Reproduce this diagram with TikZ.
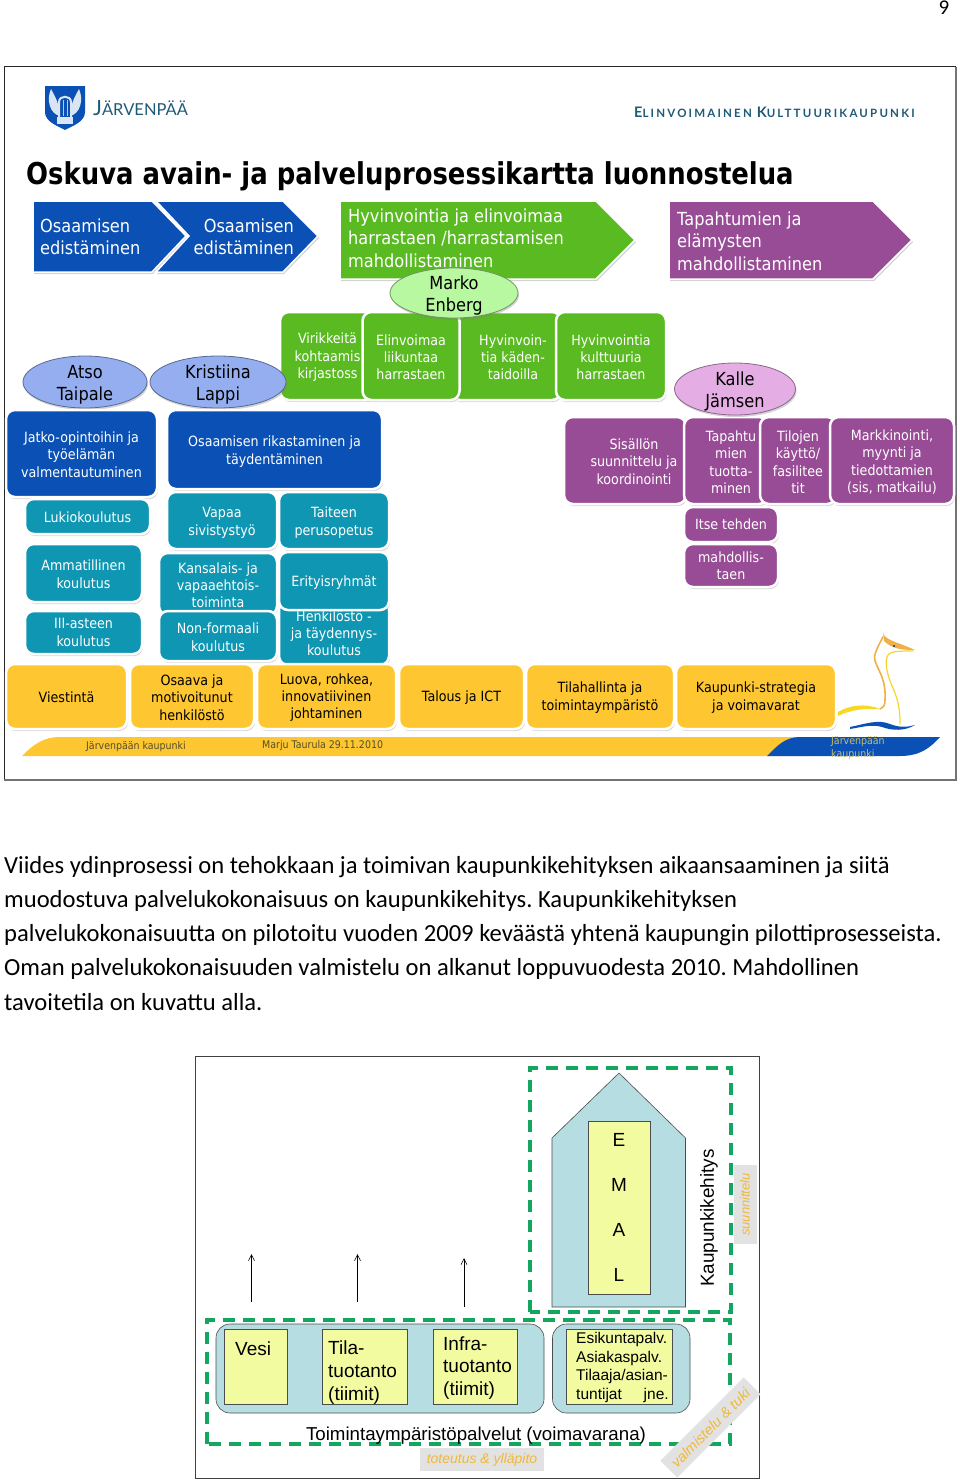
\documentclass[tikz,border=0pt]{standalone}
\usepackage{fontspec}
\setmainfont[FakeStretch=0.9]{DejaVu Sans}
\newfontfamily\titlefont[FakeStretch=0.86]{DejaVu Sans}
\newfontfamily\bodyfont{Carlito}
\newfontfamily\arialfont{Liberation Sans}
\newfontfamily\logofont{Lato}
\usetikzlibrary{calc,shadows,arrows.meta,shapes.geometric}

\definecolor{blu}{HTML}{0B50B4}
\definecolor{grn}{HTML}{5ABA22}
\definecolor{prp}{HTML}{984C96}
\definecolor{tea}{HTML}{0E96B2}
\definecolor{ylw}{HTML}{FEC630}
\definecolor{pale}{HTML}{B6DDE2}
\definecolor{lemon}{HTML}{F2FBA0}
\definecolor{dashgrn}{HTML}{14A55F}
\definecolor{tagtxt}{HTML}{EFB83A}
\definecolor{taggray}{HTML}{E2E2E2}
\definecolor{logoteal}{HTML}{1E5A78}
\definecolor{personblue}{HTML}{94AEF0}
\definecolor{persongreen}{HTML}{B8F8A0}
\definecolor{personpink}{HTML}{E4AEE4}
\definecolor{swangold}{HTML}{EDB04A}

% taller first line, pushes a node's text down a little
\newcommand{\lift}[1][13pt]{\rule{0pt}{#1}}

\tikzset{
  softshadow/.style={drop shadow={opacity=.35,shadow xshift=1pt,shadow yshift=-2pt}},
  card/.style={rounded corners=9pt,fill=#1,draw=white,line width=2.5pt,softshadow,
    text=white,align=center,inner sep=0pt,font=\fontsize{14.1}{17.2}\selectfont},
  darkcard/.style={card=ylw,text=black},
  tip/.style={fill=#1,draw=white,line width=1.5pt,softshadow},
  tiptext/.style={text=white,align=left,inner sep=0pt,font=\fontsize{18}{22.3}\selectfont},
  person/.style={ellipse,draw=#1!60!black,line width=.8pt,fill=#1,softshadow,
    text=black,align=center,inner sep=-10pt,font=\fontsize{18}{22}\selectfont},
  thin box/.style={draw=black!70,line width=.6pt,fill=#1},
  lemonbox/.style={thin box=lemon,inner sep=0pt},
  paneldash/.style={draw=dashgrn,line width=3.5pt,dash pattern=on 12pt off 8pt},
  tag/.style={fill=taggray,text=tagtxt,inner sep=0pt,font=\arialfont\itshape\fontsize{14.5}{14.5}\selectfont},
  up/.style={-{Straight Barb[length=6pt,width=6pt]},line width=.6pt},
}

\begin{document}
\frenchspacing
\begin{tikzpicture}[x=1pt,y=-1pt]
\useasboundingbox (0,0) rectangle (960,1480);

% page number
\node[font=\bodyfont\fontsize{21}{21}\selectfont] (pagenum) at (944,8) {9};

%%% SLIDE
\draw[line width=1pt,black!85] (4,780)--(4,67)--(956,67);
\draw[line width=2pt,black!55] (956,67)--(956,780)--(4,780);

% crest
\fill[blu] (45,86)--(85,86)--(85,112) .. controls (85,122) and (72,126) .. (65,130)
  .. controls (58,126) and (45,122) .. (45,112)--cycle;
\fill[white!85!blu] (51,89) .. controls (46,100) and (50,114) .. (60,116) .. controls (60,106) and (56,98) .. (51,89);
\fill[white!85!blu] (79,89) .. controls (84,100) and (80,114) .. (70,116) .. controls (70,106) and (74,98) .. (79,89);
\draw[white!85!blu,line width=2pt] (59,117)--(59,102) .. controls (59,95) and (71,95) .. (71,102)--(71,117);
\draw[white!70!blu,line width=.7pt] (63,100)--(63,116) (67,100)--(67,116);
\fill[white!85!blu] (57,117) rectangle (73,124);
\node[anchor=west,text=logoteal,inner sep=0pt,font=\logofont\fontsize{21}{21}\selectfont] (cityname) at (93,108)
  {J\fontsize{16.5}{16.5}\selectfont ÄRVENPÄÄ};
\node[anchor=west,text=logoteal,inner sep=0pt,font=\logofont\bfseries\fontsize{14.5}{14.5}\selectfont] (motto) at (634,112)
  {\addfontfeature{LetterSpace=19}E\fontsize{11.5}{11.5}\selectfont LINVOIMAINEN \fontsize{14.5}{14.5}\selectfont K\fontsize{11.5}{11.5}\selectfont ULTTUURIKAUPUNKI};

% title
\node[anchor=base west,inner sep=0pt,font=\titlefont\bfseries\fontsize{30.1}{30.1}\selectfont] (title) at (26,184)
  {Oskuva avain- ja palveluprosessikartta luonnostelua};

% process arrows
\path[tip=blu] (33,201)--(152,201)--(186,236)--(152,272)--(33,272)--cycle;
\path[tip=blu] (156,201)--(283,201)--(318,236)--(283,272)--(156,272)--(189,236)--cycle;
\path[tip=grn] (340,201)--(596,201)--(635,240)--(596,279)--(340,279)--cycle;
\path[tip=prp] (669,201)--(873,201)--(912,240)--(873,279)--(669,279)--cycle;
\node[tiptext,anchor=west] (tip1) at (40,237) {Osaamisen\\edistäminen};
\node[tiptext,anchor=east,align=right] (tip2) at (294,237) {Osaamisen\\edistäminen};
\node[tiptext,anchor=west] (tip3) at (348,238) {Hyvinvointia ja elinvoimaa\\harrastaen /harrastamisen\\mahdollistaminen};
\node[tiptext,anchor=west] (tip4) at (677,241) {Tapahtumien ja\\elämysten\\mahdollistaminen};

% green row
\node[card=grn,minimum width=95pt,minimum height=88pt] (virikkeita) at (327.5,356) {\lift Virikkeitä\\kohtaamis\\kirjastoss};
\node[card=grn,minimum width=110pt,minimum height=88pt] (hyvkaden) at (506,356) {\lift\hspace*{14pt}Hyvinvoin-\\\hspace*{14pt}tia käden-\\\hspace*{14pt}taidoilla};
\node[card=grn,minimum width=97pt,minimum height=88pt] (elinvoimaa) at (411,356) {\lift Elinvoimaa\\liikuntaa\\harrastaen};
\node[card=grn,minimum width=110pt,minimum height=88pt] (hyvkulttuuri) at (611,356) {\lift Hyvinvointia\\kulttuuria\\harrastaen};

% named people
\node[person=persongreen,minimum width=128pt,minimum height=50pt] (marko) at (454,293) {\lift[19.5pt]Marko\\Enberg};
\node[person=personblue,minimum width=124pt,minimum height=52pt] (atso) at (85,382) {\lift[19.5pt]Atso\\Taipale};
\node[person=personblue,minimum width=136pt,minimum height=52pt] (kristiina) at (218,382) {\lift[19.5pt]Kristiina\\Lappi};

% blue heads
\node[card=blu,minimum width=151pt,minimum height=87pt] (jatko) at (81.5,453.5) {\lift Jatko-opintoihin ja\\työelämän\\valmentautuminen};
\node[card=blu,minimum width=215pt,minimum height=79pt] (rikastaminen) at (274.5,449.5) {\lift[15pt]Osaamisen rikastaminen ja\\täydentäminen};

% teal boxes, first column
\node[card=tea,minimum width=125pt,minimum height=35pt] (lukio) at (87.5,516.5) {\lift Lukiokoulutus};
\node[card=tea,minimum width=117pt,minimum height=58pt] (ammatillinen) at (83.5,573) {\lift Ammatillinen\\koulutus};
\node[card=tea,minimum width=117pt,minimum height=43pt] (kolmas) at (83.5,632.5) {III-asteen\\koulutus};

% teal boxes, second and third column
\node[card=tea,minimum width=110pt,minimum height=57pt] (vapaa) at (222,520.5) {\lift[15pt]Vapaa\\sivistystyö};
\node[card=tea,minimum width=110pt,minimum height=57pt] (taiteen) at (334,520.5) {\lift[15pt]Taiteen\\perusopetus};
\node[card=tea,minimum width=118pt,minimum height=62pt] (kansalais) at (218,584) {\lift Kansalais- ja\\vapaaehtois-\\toiminta};
\node[card=tea,minimum width=110pt,minimum height=64pt] (henkilosto) at (334,633) {Henkilöstö -\\ja täydennys-\\koulutus};
\node[card=tea,minimum width=118pt,minimum height=50pt] (nonformaali) at (218,636) {\lift Non-formaali\\koulutus};
\node[card=tea,minimum width=110pt,minimum height=58pt] (erityis) at (334,581) {\lift Erityisryhmät};

% purple boxes
\node[card=prp,minimum width=122pt,minimum height=87pt] (sisalto) at (625,460.5) {\lift\hspace*{18pt}Sisällön\\\hspace*{18pt}suunnittelu ja\\\hspace*{18pt}koordinointi};
\node[card=prp,minimum width=84pt,minimum height=87pt] (tapahtu) at (726,460.5) {\lift[14pt]\hspace*{10pt}Tapahtu\\\hspace*{10pt}mien\\\hspace*{10pt}tuotta-\\\hspace*{10pt}minen};
\node[card=prp,minimum width=76pt,minimum height=87pt] (tilojen) at (798,460.5) {\lift[14pt]Tilojen\\käyttö/\\fasilitee\\tit};
\node[card=prp,minimum width=124pt,minimum height=87pt] (markkinointi) at (892,460.5) {\lift[14pt]Markkinointi,\\myynti ja\\tiedottamien\\(sis, matkailu)};
\node[card=prp,minimum width=94pt,minimum height=35pt] (itse) at (731,524.5) {Itse tehden};
\node[card=prp,minimum width=94pt,minimum height=43pt] (mahd) at (731,565.5) {mahdollis-\\taen};
\node[person=personpink,minimum width=121pt,minimum height=52pt] (kalle) at (735,389) {\lift[19.5pt]Kalle\\Jämsen};

% swan
\fill[swangold] (883,632) .. controls (884,640) and (895,641) .. (915,650)
  .. controls (902,650) and (892,649) .. (884,641) .. controls (884,637) and (883,635) .. (883,632);
\draw[swangold,line width=1.6pt,line cap=round] (883,637) .. controls (877,648) and (873,656) .. (875,661)
  .. controls (880,674) and (886,680) .. (885,700) .. controls (885,705) and (884,707) .. (880,709);
\draw[yellow!55!swangold,line width=1.2pt,line cap=round] (913,651) .. controls (900,651) and (891,651) .. (888,655)
  .. controls (884,662) and (887,675) .. (893,688) .. controls (899,702) and (900,712) .. (900,724);
\fill[blu!70!black] (894,646) circle (1.2pt);
\fill[yellow!60!swangold] (838,712) .. controls (850,705) and (865,703) .. (880,709)
  .. controls (865,708) and (850,710) .. (838,716)--cycle;
\fill[blu] (850,727) .. controls (865,724) and (878,719) .. (890,724)
  .. controls (900,728) and (908,727) .. (915,725) .. controls (905,731) and (893,731) .. (882,727)
  .. controls (872,724) and (862,727) .. (850,729)--cycle;

% yellow row
\node[darkcard,minimum width=121pt,minimum height=65pt] (viestinta) at (66.5,696.5) {\lift Viestintä};
\node[darkcard,minimum width=124pt,minimum height=65pt] (osaava) at (192,696.5) {\lift Osaava ja\\motivoitunut\\henkilöstö};
\node[darkcard,minimum width=139pt,minimum height=65pt] (luova) at (326.5,696.5) {\lift Luova, rohkea,\\innovatiivinen\\johtaminen};
\node[darkcard,minimum width=125pt,minimum height=65pt] (talous) at (461.5,696.5) {\lift Talous ja ICT};
\node[darkcard,minimum width=148pt,minimum height=65pt] (tilahallinta) at (600,696.5) {\lift Tilahallinta ja\\toimintaympäristö};
\node[darkcard,minimum width=160pt,minimum height=65pt] (kaupunki) at (756,696.5) {\lift Kaupunki-strategia\\ja voimavarat};

% footer band
\fill[ylw] (22,756) .. controls (32,746) and (42,737) .. (60,737)--(810,737)--(810,756)--cycle;
\fill[blu] (767,756) .. controls (777,746) and (785,737) .. (800,737)--(940,737)
  .. controls (930,748) and (920,756) .. (900,756)--cycle;
\node[anchor=west,inner sep=0pt,text=black!55!olive,font=\fontsize{10.5}{10.5}\selectfont] (footleft) at (86,747) {Järvenpään kaupunki};
\node[anchor=west,inner sep=0pt,text=black!55!olive,font=\fontsize{10.5}{10.5}\selectfont] (footmid) at (262,746) {Marju Taurula 29.11.2010};
\node[anchor=west,inner sep=0pt,align=left,text=yellow!45!gray,font=\fontsize{10.5}{12.5}\selectfont] (footright) at (831,748) {Järvenpään\\kaupunki};

%%% PARAGRAPH
\node[anchor=north west,inner sep=0pt,align=left,font=\bodyfont\fontsize{24.6}{34.2}\selectfont] (para) at (4,856) {Viides ydinprosessi on tehokkaan ja toimivan kaupunkikehityksen aikaansaaminen ja siitä\\muodostuva palvelukokonaisuus on kaupunkikehitys. Kaupunkikehityksen\\palvelukokonaisuutta on pilotoitu vuoden 2009 keväästä yhtenä kaupungin pilottiprosesseista.\\Oman palvelukokonaisuuden valmistelu on alkanut loppuvuodesta 2010. Mahdollinen\\tavoitetila on kuvattu alla.};

%%% TARGET PICTURE
\draw[black!75,line width=1pt] (195.5,1056) rectangle (759,1478);

% city development house
\draw[thin box=pale] (552,1307)--(552,1138)--(619,1073)--(685.5,1138)--(685.5,1307)--cycle;
\node[lemonbox,minimum width=62pt,minimum height=173pt] (emal) at (619,1207.5) {};
\foreach \c/\yy in {E/1140,M/1185,A/1230,L/1275}
  \node[inner sep=0pt,font=\arialfont\fontsize{19}{19}\selectfont] (emal\c) at (619,\yy) {\c};

% service panels
\node[thin box=pale,rounded corners=14pt,minimum width=328pt,minimum height=89pt] (panelleft) at (380,1368.5) {};
\node[thin box=pale,rounded corners=14pt,minimum width=137.5pt,minimum height=89pt] (panelright) at (621.25,1368.5) {};
\node[lemonbox,minimum width=63pt,minimum height=75pt] (vesi) at (256,1366.5) {};
\node[inner sep=0pt,anchor=west,font=\arialfont\fontsize{19}{22.8}\selectfont] (vesitext) at (235,1349) {Vesi};
\node[lemonbox,minimum width=85pt,minimum height=75pt] (tila) at (364.5,1366.5) {};
\node[inner sep=0pt,anchor=west,align=left,font=\arialfont\fontsize{19}{22.8}\selectfont] (tilatext) at (328,1372.5) {Tila-\\tuotanto\\(tiimit)};
\node[lemonbox,minimum width=84pt,minimum height=75pt] (infra) at (475,1366.5) {};
\node[inner sep=0pt,anchor=west,align=left,font=\arialfont\fontsize{19}{22.5}\selectfont] (infratext) at (443,1368) {Infra-\\tuotanto\\(tiimit)};
\node[lemonbox,minimum width=106pt,minimum height=75pt] (esikunta) at (619,1366.5) {};
\node[inner sep=0pt,anchor=west,align=left,text width=92.5pt,font=\arialfont\fontsize{15.5}{18.7}\selectfont] (esitext) at (576,1367.5) {Esikuntapalv.\\Asiakaspalv.\\Tilaaja/asian-\\tuntijat\hfill jne.};

% dashed areas
\draw[paneldash] (530,1312)--(530,1068)--(731,1068)--(731,1312)--cycle;
\draw[paneldash] (207,1444)--(207,1320)--(730,1320)--(730,1444)--cycle;

% arrows upward
\coordinate (a1) at (251.5,1302);
\coordinate (a1top) at (251.5,1254);
\coordinate (a2) at (357.5,1302);
\coordinate (a2top) at (357.5,1254);
\coordinate (a3) at (464,1307);
\coordinate (a3top) at (464,1258);
\foreach \k in {1,2,3}
  \draw[up] (a\k)--(a\k top);

% captions
\node[inner sep=0pt,font=\arialfont\fontsize{18.7}{18.7}\selectfont] (toiminta) at (476,1436) {Toimintaympäristöpalvelut (voimavarana)};
\node[rotate=90,inner sep=0pt,font=\arialfont\fontsize{18.9}{18.9}\selectfont] (kehitys) at (709,1218) {Kaupunkikehitys};
\node[tag,rotate=90,minimum width=79pt,minimum height=23pt,font=\arialfont\itshape\fontsize{13}{13}\selectfont] (suunnittelu) at (745,1204.5) {suunnittelu};
\node[tag,minimum width=124pt,minimum height=23pt,font=\arialfont\itshape\fontsize{14}{14}\selectfont] (toteutus) at (482,1459.5) {toteutus \& ylläpito};
\node[tag,rotate=45,minimum width=118pt,minimum height=24pt] (valmistelu) at (710.5,1427.5) {valmistelu \& tuki};
\end{tikzpicture}
\end{document}
